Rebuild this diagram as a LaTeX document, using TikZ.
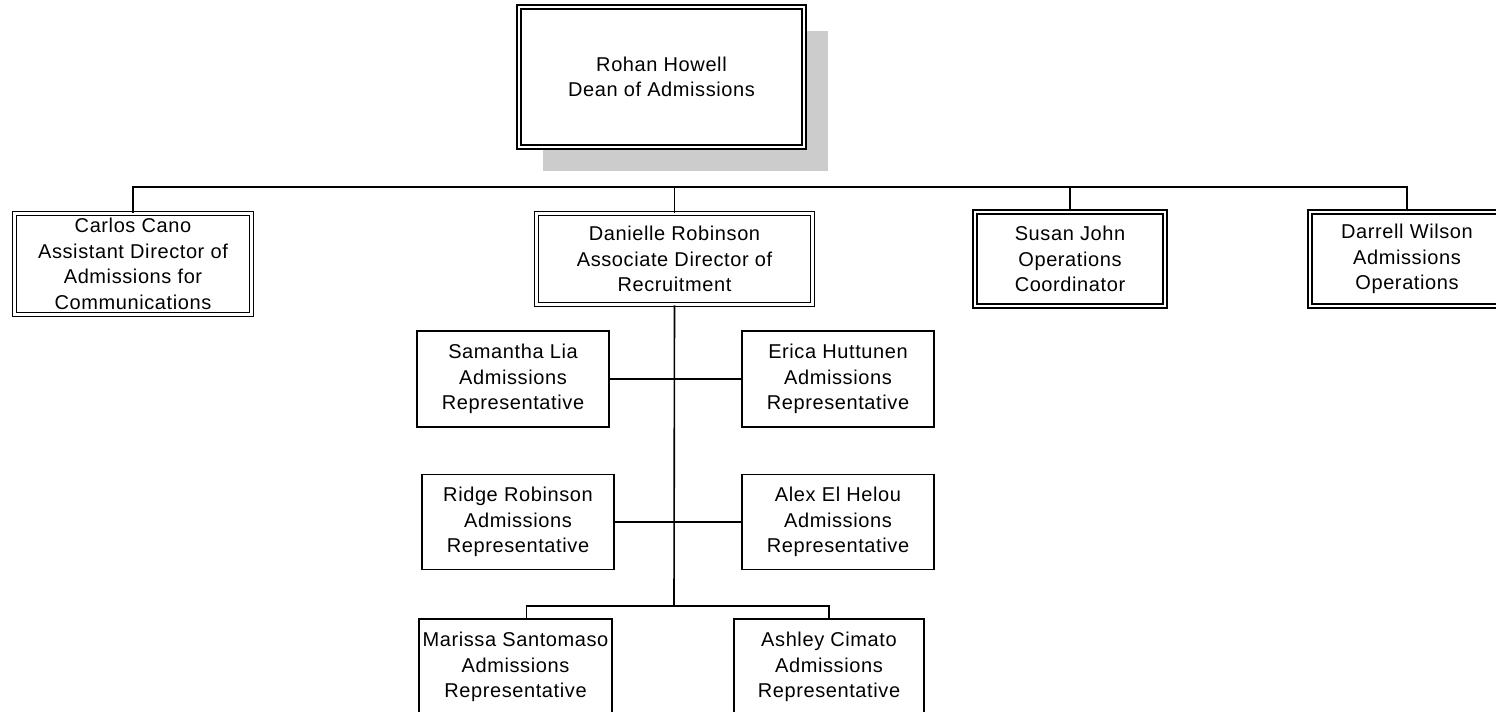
\documentclass[tikz,border=0pt]{standalone}
\usepackage{fontspec}
\setmainfont{Liberation Sans}[LetterSpace=3]
\usetikzlibrary{shadows}

\begin{document}
\begin{tikzpicture}[x=0.5pt, y=-0.5pt, line width=0.8pt,
    every node/.style={font=\fontsize{10}{12.8}\selectfont, align=center, inner sep=0pt},
    lead/.style={draw, double, double distance=1.3pt, line width=0.75pt, fill=white, minimum height=47pt},
    rep/.style={draw, fill=white, minimum width=96pt, minimum height=48pt}]
  \useasboundingbox (0,0) rectangle (1496,712);

  % Dean with its grey shadow
  \node[lead, minimum width=142.5pt, minimum height=70pt,
        drop shadow={shadow xshift=12pt, shadow yshift=-12pt, fill=black!20, opacity=1}]
    (dean) at (661.5,77) {Rohan Howell\\Dean of Admissions};

  % Directors and operations
  \node[lead, minimum width=118.5pt, minimum height=50.5pt] (carlos) at (133,264)
    {Carlos Cano\\Assistant Director of\\Admissions for\\Communications};
  \node[lead, minimum width=138pt, minimum height=45.5pt] (danielle) at (674.5,259)
    {Danielle Robinson\\Associate Director of\\Recruitment};
  \node[lead, minimum width=95pt] (susan) at (1070,259) {Susan John\\Operations\\Coordinator};
  \node[lead, minimum width=97pt] (darrell) at (1407,259) {Darrell Wilson\\Admissions\\Operations};

  % Representatives
  \node[rep] (samantha) at (513,379) {Samantha Lia\\Admissions\\Representative};
  \node[rep] (erica) at (838,379) {Erica Huttunen\\Admissions\\Representative};
  \node[rep, minimum height=47.5pt] (ridge) at (518,522) {Ridge Robinson\\Admissions\\Representative};
  \node[rep, minimum height=47.5pt] (alex) at (838,522) {Alex El Helou\\Admissions\\Representative};
  \node[rep, minimum width=96.5pt] (marissa) at (515.5,667) {Marissa Santomaso\\Admissions\\Representative};
  \node[rep, minimum width=95pt] (ashley) at (829,667) {Ashley Cimato\\Admissions\\Representative};

  % Connectors
  \coordinate (bus) at (674,187);
  \coordinate (fork) at (674,606);
  \draw (carlos.north) |- (bus) -| (darrell.north);
  \draw (danielle.north) -- (danielle.north |- bus);
  \draw (susan.north) -- (susan.north |- bus);
  \draw (danielle.south) -- (fork);
  \draw (samantha.east) -- (erica.west);
  \draw (ridge.east) -- (alex.west);
  \draw ([xshift=5.5pt]marissa.north) |- (fork) -| (ashley.north);

\end{tikzpicture}
\end{document}
